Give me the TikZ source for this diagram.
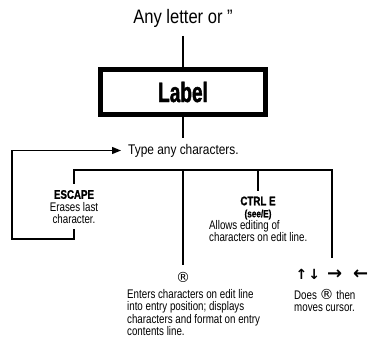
\documentclass[tikz,border=0pt]{standalone}
\usepackage{fontspec}
\setmainfont{Liberation Sans}[FakeStretch=0.85]
\newfontfamily\notefont{Liberation Sans}[FakeStretch=0.78,BoldFeatures={FakeBold=1.2}]
\newfontfamily\labelfont{Liberation Sans}[FakeStretch=0.68,BoldFeatures={FakeBold=1.5}]
\newfontfamily\symfont{DejaVu Sans}
\usetikzlibrary{arrows.meta,positioning,calc}
\newcommand{\regmark}{{\symfont\fontsize{14}{12}\selectfont ®}}
\newcommand{\bigarw}[1]{{\fontsize{18}{14}\selectfont #1}}
\tikzset{
  wire/.style={line width=1.3pt},
  arr/.style={wire,-{Triangle[length=9pt,width=7pt]}},
  keybox/.style={rectangle,draw,line width=4.5pt,minimum width=165pt,
    minimum height=45pt,font=\labelfont\fontsize{28}{28}\selectfont\bfseries},
  key/.style={font=\notefont\fontsize{12.5}{12.5}\selectfont,align=center,inner sep=0pt},
  note/.style={font=\notefont\fontsize{12.5}{12.5}\selectfont,align=left,inner sep=0pt},
}

\begin{document}
\begin{tikzpicture}[x=1pt,y=-1pt]
\useasboundingbox (0,0) rectangle (371,346);

\node[font=\fontsize{19.5}{20}\selectfont,inner sep=0pt] (top) at (183,18.5) {Any letter or ”};
\node[keybox] (lbl) at (183,92) {Label};
\node[font=\fontsize{14}{15}\selectfont,inner ysep=0pt,inner xsep=7pt,anchor=west] (type) at (121,150.5) {Type any characters.};
\coordinate (hub) at (183,170);
\coordinate (loop) at (12,239);

\node[key] (esc) at (74,207) {\textbf{ESCAPE}\\Erases last\\character.};
\node[key,font=\notefont\fontsize{12.5}{12}\selectfont\bfseries] (ctrl) at (258,208) {CTRL E\\{\fontsize{10.5}{10}\selectfont(see/E)}};
\node[note,anchor=north west] (ctrltxt) at (209,220) {Allows editing of\\characters on edit line.};
\node[inner sep=0pt] (reg) at (183,277.5) {\regmark};
\node[note,anchor=north west] (enter) at (127,289) {Enters characters on edit line\\into entry position; displays\\characters and format on entry\\contents line.};
\node[inner sep=0pt,font=\symfont\fontsize{14}{14}\selectfont\bfseries] (arw) at (332,274) {↑\hspace{1pt}↓\hspace{7pt}\bigarw{→}\hspace{11pt}\bigarw{←}};
\node[note,anchor=north west] (does) at (294,289) {Does \regmark{} then\\moves cursor.};

\draw[wire,shorten <=8pt] (top.south) -- (lbl.north);
\draw[wire,shorten >=6pt] (lbl.south) -- (lbl.south |- type.north);
\draw[arr,shorten <=5pt] (esc.south) |- (loop) |- (type.west);
\draw[wire,shorten <=6pt,shorten >=11pt] (esc.north) |- (hub) -| (arw.north);
\draw[wire,shorten >=7pt] (hub) -- (reg.north);
\draw[wire,shorten >=5pt] (ctrl.north |- hub) -- (ctrl.north);
\end{tikzpicture}
\end{document}
